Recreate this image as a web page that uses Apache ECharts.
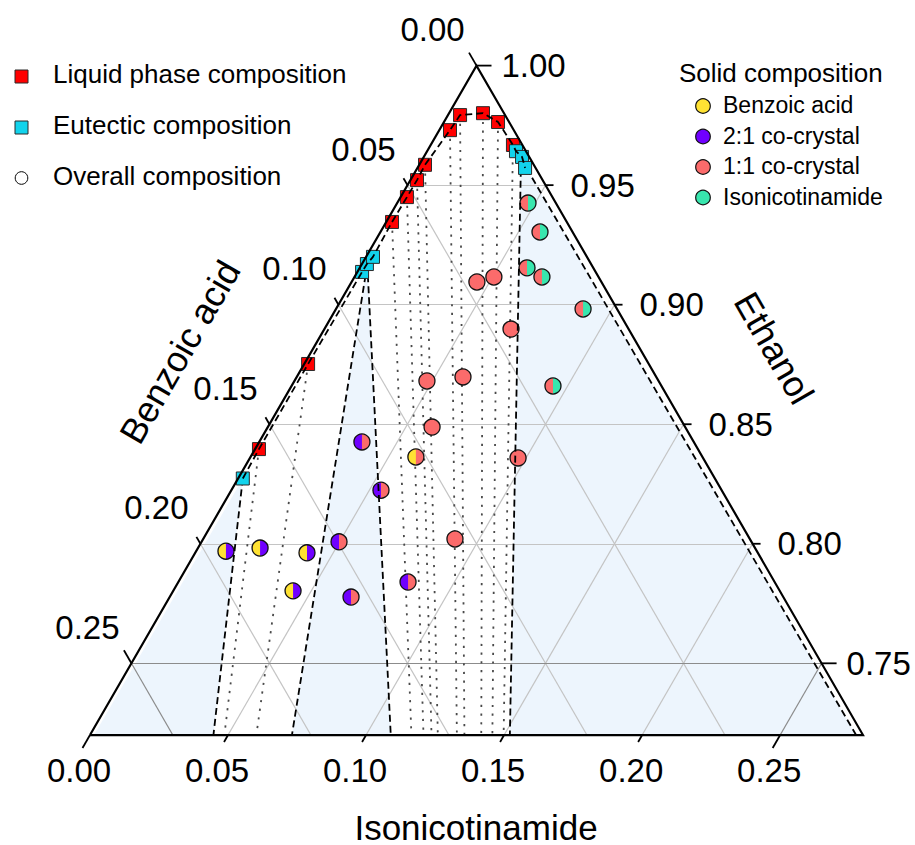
<!DOCTYPE html>
<html>
<head>
<meta charset="utf-8">
<title>Benzoic acid – isonicotinamide – ethanol phase diagram</title>
<script src="https://cdn.jsdelivr.net/npm/echarts@6/dist/echarts.min.js"></script>
<style>
  html, body { margin: 0; padding: 0; background: #ffffff; }
  #chart { width: 915px; height: 845px; }
</style>
</head>
<body>
<div id="chart"></div>
<script>
// All compositions are mass fractions; ethanol = 1 - benzoic acid - isonicotinamide.
// The diagram shows the ethanol-rich corner: ethanol from 0.72 up to 1.00.
const SPAN = 0.28;
const ETH_MIN = 1 - SPAN;
const H = Math.sqrt(3) / 2;

// Axis ticks
const baTicks  = [0.00, 0.05, 0.10, 0.15, 0.20, 0.25];
const inaTicks = [0.00, 0.05, 0.10, 0.15, 0.20, 0.25];
const ethTicks = [1.00, 0.95, 0.90, 0.85, 0.80, 0.75];

// Solid phases (benzoic acid and isonicotinamide share M = 122.12 g/mol)
const solidNames  = ['Benzoic acid', '2:1 co-crystal', '1:1 co-crystal', 'Isonicotinamide'];
const solidColors = ['#FFE233', '#7000FF', '#FB6B6B', '#38E6AE'];
const solidBA     = [1.0000, 0.6667, 0.5000, 0.0000];
const solidINA    = [0.0000, 0.3333, 0.5000, 1.0000];

// Liquid phase saturated with the 2:1 co-crystal
const liq21BA  = [0.1590, 0.1234];
const liq21INA = [0.0014, 0.0014];
// Liquid phase saturated with the 1:1 co-crystal
const liq11BA  = [0.0633, 0.0527, 0.0455, 0.0394, 0.0231, 0.0163, 0.0076, 0.0040, 0.0034];
const liq11INA = [0.0021, 0.0023, 0.0024, 0.0021, 0.0039, 0.0044, 0.0123, 0.0196, 0.0298];

// Eutectic liquids: benzoic acid + 2:1, 2:1 + 1:1, 1:1 + isonicotinamide
const eutA_BA  = [0.1710];
const eutA_INA = [0.0017];
const eutB_BA  = [0.0846, 0.0812, 0.0775];
const eutB_INA = [0.0017, 0.0018, 0.0025];
const eutC_BA  = [0.0036, 0.0026, 0.0038];
const eutC_INA = [0.0322, 0.0356, 0.0390];

// Overall compositions and the solid phases found (index into solidNames)
const overallBA  = [0.0101, 0.0118, 0.0240, 0.0205, 0.0123, 0.0393,
                    0.0451, 0.0379, 0.0426, 0.0700, 0.0839, 0.0917, 0.0670, 0.1068,
                    0.1038,
                    0.1202, 0.1234, 0.1494, 0.1566, 0.1328,
                    0.1923, 0.1793, 0.1633, 0.1763];
const overallINA = [0.0474, 0.0578, 0.0606, 0.0679, 0.0895, 0.0947,
                    0.0454, 0.0505, 0.0676, 0.0602, 0.0480, 0.0595, 0.0971, 0.0912,
                    0.0599,
                    0.0372, 0.0542, 0.0498, 0.0657, 0.0832,
                    0.0108, 0.0225, 0.0405, 0.0434];
const solidLeft  = [2, 2, 2, 2, 2, 2,  2, 2, 2, 2, 2, 2, 2, 2,  0,  1, 1, 1, 1, 1,  0, 0, 0, 0];
const solidRight = [3, 3, 3, 3, 3, 3,  2, 2, 2, 2, 2, 2, 2, 2,  2,  2, 2, 2, 2, 2,  1, 1, 1, 1];

// ---- helpers -------------------------------------------------------------
const FONT = 'Arial, "Liberation Sans", Helvetica, sans-serif';
const zip = (a, b) => a.map((v, i) => [v, b[i]]);
// [benzoic acid, isonicotinamide] -> cartesian value on the hidden x / y axes
const toXY = c => [SPAN / 2 + (c[1] - c[0]) / 2, (1 - c[0] - c[1] - ETH_MIN) * H];
const solidAt = k => [solidBA[k], solidINA[k]];
const mean = pts => [pts.reduce((s, p) => s + p[0], 0) / pts.length,
                     pts.reduce((s, p) => s + p[1], 0) / pts.length];
// point where the line from liquid p towards solid s reaches ethanol = ETH_MIN
function toBase(p, s) {
  const eP = 1 - p[0] - p[1], eS = 1 - s[0] - s[1];
  const t = (eP - ETH_MIN) / (eP - eS);
  return [p[0] + t * (s[0] - p[0]), p[1] + t * (s[1] - p[1])];
}

const liq21 = zip(liq21BA, liq21INA);
const liq11 = zip(liq11BA, liq11INA);
const eutA = zip(eutA_BA, eutA_INA);
const eutB = zip(eutB_BA, eutB_INA);
const eutC = zip(eutC_BA, eutC_INA);
const liquids = liq21.concat(liq11);
const eutectics = eutA.concat(eutB, eutC);
const overall = zip(overallBA, overallINA);

// invariant (three-phase) regions: eutectic liquid + two solids
const invariant = [
  { liquid: mean(eutA), solids: [0, 1], edges: [1] },
  { liquid: mean(eutB), solids: [1, 2], edges: [1, 2] },
  { liquid: mean(eutC), solids: [2, 3], edges: [2, 3] }
];
const regionPolys = invariant.map(g =>
  [g.liquid, toBase(g.liquid, solidAt(g.solids[0])), toBase(g.liquid, solidAt(g.solids[1]))]);

// solubility curve in order along the ethanol-rich edge
const curve = eutA.concat(liq21, eutB, liq11, eutC);

// tie lines from each saturated liquid to its solid
const tieLines = liq21.map(p => [p, toBase(p, solidAt(1))])
  .concat(liq11.map(p => [p, toBase(p, solidAt(2))]));
const boundaryLines = [];
invariant.forEach(g => g.edges.forEach(k => boundaryLines.push([g.liquid, toBase(g.liquid, solidAt(k))])));

// grid lines at every tick value strictly inside the triangle
const gridLines = [];
baTicks.filter(v => v > 0).forEach(v => gridLines.push({ a: [v, 0], b: [v, SPAN - v], major: Math.abs(v - 0.25) < 1e-9 }));
inaTicks.filter(v => v > 0).forEach(v => gridLines.push({ a: [SPAN - v, v], b: [0, v], major: Math.abs(v - 0.25) < 1e-9 }));
ethTicks.filter(v => v < 1).forEach(v => gridLines.push({ a: [1 - v, 0], b: [0, 1 - v], major: Math.abs(v - 0.75) < 1e-9 }));

// ticks and labels of the three axes
const tickItems = [];
baTicks.forEach(v => tickItems.push({ axis: 'ba', value: v, d: v, at: [v, 0] }));
ethTicks.forEach(v => tickItems.push({ axis: 'eth', value: v, d: 1 - v, at: [0, 1 - v] }));
inaTicks.forEach(v => tickItems.push({ axis: 'ina', value: v, d: v, at: [SPAN - v, v] }));
const TICK_DIR = { ba: [-0.5, -H], eth: [1, 0], ina: [-0.5, H] };
const LABEL_POS = {
  ba:  { dx: -44, dy: -36, align: 'center' },
  eth: { dx: 25,  dy: 0,   align: 'left' },
  ina: { dx: -11, dy: 35,  align: 'center' }
};

const corners = [[SPAN, 0], [0, SPAN], [0, 0]];

const chart = echarts.init(document.getElementById('chart'), null, { renderer: 'svg' });

const option = {
  animation: false,
  backgroundColor: '#ffffff',
  grid: { left: 90, top: 65.6, width: 773, height: 773 * H, outerBoundsMode: 'none' },
  xAxis: { type: 'value', min: 0, max: SPAN, show: false },
  yAxis: { type: 'value', min: 0, max: SPAN * H, show: false },
  series: [
    {
      // three-phase regions
      type: 'custom', silent: true, clip: false,
      data: regionPolys.map(r => toXY(r[0])),
      renderItem: (params, api) => ({
        type: 'polygon',
        shape: { points: regionPolys[params.dataIndex].map(c => api.coord(toXY(c))) },
        style: { fill: '#EDF5FD' }
      })
    },
    {
      type: 'lines', coordinateSystem: 'cartesian2d', silent: true,
      data: gridLines.map(g => ({
        coords: [toXY(g.a), toXY(g.b)],
        lineStyle: { color: g.major ? '#8C8C8C' : '#C4C4C4', width: 1.2, type: 'solid', opacity: 1 }
      }))
    },
    {
      type: 'lines', coordinateSystem: 'cartesian2d', silent: true,
      data: tieLines.map(l => ({ coords: [toXY(l[0]), toXY(l[1])] })),
      lineStyle: { color: '#4A4A4A', width: 1.8, type: [2.2, 6.5], opacity: 1 }
    },
    {
      name: 'Liquid phase composition', type: 'scatter', silent: true,
      data: liquids.map(toXY), symbol: 'rect', symbolSize: 13,
      itemStyle: { color: '#FF0000', borderColor: '#2A2A2A', borderWidth: 1, opacity: 1 }
    },
    {
      name: 'Eutectic composition', type: 'scatter', silent: true,
      data: eutectics.map(toXY), symbol: 'rect', symbolSize: 13,
      itemStyle: { color: '#12D3EC', borderColor: '#2A2A2A', borderWidth: 1, opacity: 1 }
    },
    {
      name: 'Overall composition', type: 'custom', silent: true, clip: false,
      data: overall.map(toXY),
      renderItem: (params, api) => {
        const p = api.coord([api.value(0), api.value(1)]);
        const i = params.dataIndex, r = 8;
        return {
          type: 'group', children: [
            { type: 'circle', shape: { cx: p[0], cy: p[1], r }, style: { fill: solidColors[solidRight[i]] } },
            { type: 'sector', shape: { cx: p[0], cy: p[1], r0: 0, r, startAngle: Math.PI / 2, endAngle: Math.PI * 1.5, clockwise: true },
              style: { fill: solidColors[solidLeft[i]] } },
            { type: 'circle', shape: { cx: p[0], cy: p[1], r }, style: { fill: 'none', stroke: '#111', lineWidth: 1.3 } }
          ]
        };
      }
    },
    {
      type: 'line', silent: true, clip: false,
      data: curve.map(toXY), symbol: 'none', showSymbol: false,
      lineStyle: { color: '#000', width: 1.8, type: [7, 4] }
    },
    {
      type: 'lines', coordinateSystem: 'cartesian2d', silent: true,
      data: boundaryLines.map(l => ({ coords: [toXY(l[0]), toXY(l[1])] })),
      lineStyle: { color: '#000', width: 1.8, type: [7, 4], opacity: 1 }
    },
    {
      // white margin outside the triangle so markers stop at its edges
      type: 'custom', silent: true, clip: false,
      data: [toXY(corners[2])],
      renderItem: (params, api) => {
        const bl = api.coord(toXY(corners[0])), br = api.coord(toXY(corners[1])), ap = api.coord(toXY(corners[2]));
        return {
          type: 'group', children: [
            { type: 'polygon', shape: { points: [ap, bl, [bl[0] - 30, bl[1]], [ap[0] - 30, ap[1]]] }, style: { fill: '#fff' } },
            { type: 'polygon', shape: { points: [ap, br, [br[0] + 30, br[1]], [ap[0] + 30, ap[1]]] }, style: { fill: '#fff' } }
          ]
        };
      }
    },
    {
      type: 'line', silent: true, clip: false,
      data: corners.concat([corners[0]]).map(toXY), symbol: 'none', showSymbol: false,
      lineStyle: { color: '#000', width: 2.2, join: 'miter' }
    },
    {
      // axis ticks and tick labels
      type: 'custom', silent: true, clip: false,
      data: tickItems.map(t => toXY(t.at)),
      renderItem: (params, api) => {
        const t = tickItems[params.dataIndex];
        const p = api.coord([api.value(0), api.value(1)]);
        const major = Math.abs(t.d) < 1e-9 || Math.abs(t.d - 0.25) < 1e-9;
        const len = major ? 15 : 8;
        const dir = TICK_DIR[t.axis], lab = LABEL_POS[t.axis];
        return {
          type: 'group', children: [
            { type: 'line', shape: { x1: p[0], y1: p[1], x2: p[0] + dir[0] * len, y2: p[1] + dir[1] * len },
              style: { stroke: '#000', lineWidth: 1.8 } },
            { type: 'text', x: p[0] + lab.dx, y: p[1] + lab.dy,
              style: { text: t.value.toFixed(2), fontSize: 33, fontFamily: FONT, fill: '#000',
                       align: lab.align, verticalAlign: 'middle' } }
          ]
        };
      }
    }
  ],
  graphic: [
    // axis titles
    { type: 'text', z: 100, x: 476, y: 827,
      style: { text: 'Isonicotinamide', fontSize: 35, fontFamily: FONT, fill: '#000', align: 'center', verticalAlign: 'middle' } },
    { type: 'text', z: 100, x: 180, y: 352, rotation: Math.PI / 3,
      style: { text: 'Benzoic acid', fontSize: 36, fontFamily: FONT, fill: '#000', align: 'center', verticalAlign: 'middle' } },
    { type: 'text', z: 100, x: 774, y: 348, rotation: -Math.PI / 3,
      style: { text: 'Ethanol', fontSize: 36, fontFamily: FONT, fill: '#000', align: 'center', verticalAlign: 'middle' } },

    // left legend
    { type: 'rect', z: 100, shape: { x: 15, y: 70, width: 13, height: 13 }, style: { fill: '#FF0000', stroke: '#2A2A2A', lineWidth: 1 } },
    { type: 'text', z: 100, x: 53, y: 74,
      style: { text: 'Liquid phase composition', fontSize: 26, fontFamily: FONT, fill: '#000', verticalAlign: 'middle' } },
    { type: 'rect', z: 100, shape: { x: 15, y: 121, width: 13, height: 13 }, style: { fill: '#12D3EC', stroke: '#2A2A2A', lineWidth: 1 } },
    { type: 'text', z: 100, x: 53, y: 125,
      style: { text: 'Eutectic composition', fontSize: 26, fontFamily: FONT, fill: '#000', verticalAlign: 'middle' } },
    { type: 'circle', z: 100, shape: { cx: 21.5, cy: 178, r: 6.3 }, style: { fill: '#fff', stroke: '#000', lineWidth: 1 } },
    { type: 'text', z: 100, x: 53, y: 176,
      style: { text: 'Overall composition', fontSize: 26, fontFamily: FONT, fill: '#000', verticalAlign: 'middle' } },

    // right legend
    { type: 'text', z: 100, x: 679, y: 73,
      style: { text: 'Solid composition', fontSize: 26, fontFamily: FONT, fill: '#000', verticalAlign: 'middle' } }
  ].concat(solidNames.flatMap((name, k) => [
    { type: 'circle', z: 100, shape: { cx: 703, cy: 106 + k * 30.5, r: 7.3 },
      style: { fill: solidColors[k], stroke: '#111', lineWidth: 1.2 } },
    { type: 'text', z: 100, x: 723, y: 105 + k * 30.5,
      style: { text: name, fontSize: 23, fontFamily: FONT, fill: '#000', verticalAlign: 'middle' } }
  ]))
};

chart.setOption(option);
</script>
</body>
</html>
